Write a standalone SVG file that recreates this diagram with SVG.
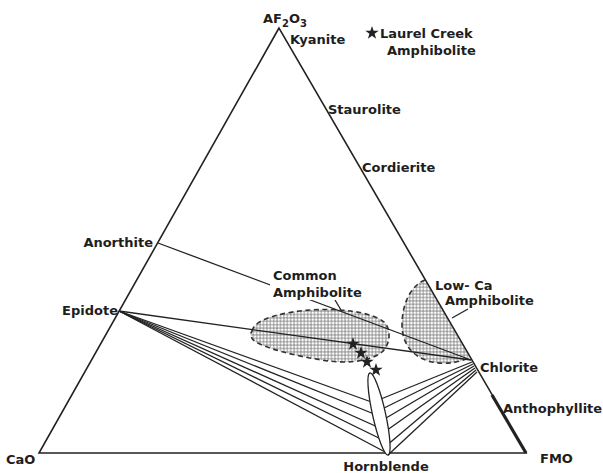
<svg xmlns="http://www.w3.org/2000/svg" width="603" height="473" viewBox="0 0 603 473">
<style>
.t{font-family:"DejaVu Sans","Liberation Sans",sans-serif;font-weight:bold;font-size:13px;fill:#1e1e1e}
.ln{stroke:#222;stroke-width:1.3;fill:none}
.edge{stroke:#222;stroke-width:1.6;fill:none}
.field{fill:url(#dots);stroke:none}
.dash{fill:none;stroke:#333;stroke-width:1.6;stroke-dasharray:5 3.5}
.star{fill:#222}
</style>
<defs>
<pattern id="dots" width="3.4" height="3.4" patternUnits="userSpaceOnUse">
<rect width="3.4" height="3.4" fill="#fff"/>
<circle cx="1.7" cy="1.7" r="1" fill="none" stroke="#555" stroke-width="0.7"/>
</pattern>
<polygon id="st" points="0,-7 1.6,-2.2 6.7,-2.2 2.6,0.8 4.1,5.7 0,2.8 -4.1,5.7 -2.6,0.8 -6.7,-2.2 -1.6,-2.2"/>
</defs>
<rect width="603" height="473" fill="#fff"/>

<g id="fields">
<g id="common-amphibolite-field">
<path class="field" d="M252,331 C255,318 285,312 310,310 C340,308 372,312 384,322 C392,330 390,345 382,352 C370,362 345,364 322,360 C295,356 265,348 256,342 C250,338 250,334 252,331 Z"/>
<path class="dash" d="M252,331 C255,318 285,312 310,310 C340,308 372,312 384,322 C392,330 390,345 382,352 C370,362 345,364 322,360 C295,356 265,348 256,342 C250,338 250,334 252,331 Z"/>
</g>
<g id="low-ca-amphibolite-field">
<path class="field" d="M425,280 C410,286 402,305 402,325 C402,345 414,358 432,362 C447,365 460,362 470,358 Z"/>
<path class="dash" d="M425,280 C410,286 402,305 402,325 C402,345 414,358 432,362 C447,365 460,362 468,358"/>
</g>
</g>

<g id="connectors">
<line class="ln" x1="158" y1="243" x2="471" y2="360"/>
<line class="ln" x1="119" y1="311" x2="471" y2="360"/>
<line class="ln" x1="119" y1="311" x2="377" y2="404"/>
<line class="ln" x1="119" y1="311" x2="379" y2="416"/>
<line class="ln" x1="119" y1="311" x2="382" y2="429"/>
<line class="ln" x1="119" y1="311" x2="385" y2="441"/>
<line class="ln" x1="119" y1="311" x2="387" y2="453"/>
<line class="ln" x1="472" y1="362" x2="376" y2="401"/>
<line class="ln" x1="473" y1="364" x2="378" y2="411"/>
<line class="ln" x1="474" y1="366" x2="381" y2="421"/>
<line class="ln" x1="475" y1="368" x2="383" y2="433"/>
<line class="ln" x1="476" y1="370" x2="386" y2="446"/>
<line class="ln" x1="477" y1="372" x2="388" y2="455"/>
<line class="ln" x1="335" y1="300" x2="341" y2="310"/>
<line class="ln" x1="452" y1="318" x2="468" y2="309"/>
</g>

<g id="triangle">
<path class="edge" d="M279,28 L39,453 L526,453 Z"/>
<line x1="492" y1="395" x2="526" y2="453" stroke="#222" stroke-width="3.2"/>
</g>

<g id="hornblende-field">
<ellipse cx="379" cy="414" rx="6.5" ry="42" transform="rotate(-12.5 379 414)" fill="#fff" stroke="#222" stroke-width="1.3"/>
</g>

<g id="laurel-creek-samples">
<use href="#st" class="star" x="353" y="344"/>
<use href="#st" class="star" x="361" y="353"/>
<use href="#st" class="star" x="367" y="362"/>
<use href="#st" class="star" x="376" y="370"/>
</g>

<g id="labels">
<text class="t" x="263" y="23">AF<tspan font-size="10" dy="4">2</tspan><tspan dy="-4">O</tspan><tspan font-size="10" dy="4">3</tspan></text>
<text class="t" x="290" y="44">Kyanite</text>
<use href="#st" class="star" x="372" y="33"/>
<text class="t" x="380" y="38">Laurel Creek</text>
<text class="t" x="387" y="55">Amphibolite</text>
<text class="t" x="328" y="114">Staurolite</text>
<text class="t" x="362" y="172">Cordierite</text>
<text class="t" x="153" y="247" text-anchor="end">Anorthite</text>
<text class="t" x="118" y="315" text-anchor="end">Epidote</text>
<rect x="270" y="267" width="100" height="33" fill="#fff"/>
<text class="t" x="273" y="280">Common</text>
<text class="t" x="273" y="297">Amphibolite</text>
<text class="t" x="435" y="290">Low- Ca</text>
<text class="t" x="445" y="305">Amphibolite</text>
<text class="t" x="480" y="372">Chlorite</text>
<text class="t" x="503" y="413">Anthophyllite</text>
<text class="t" x="6" y="464">CaO</text>
<text class="t" x="540" y="463">FMO</text>
<text class="t" x="386" y="471" text-anchor="middle">Hornblende</text>
</g>
</svg>
